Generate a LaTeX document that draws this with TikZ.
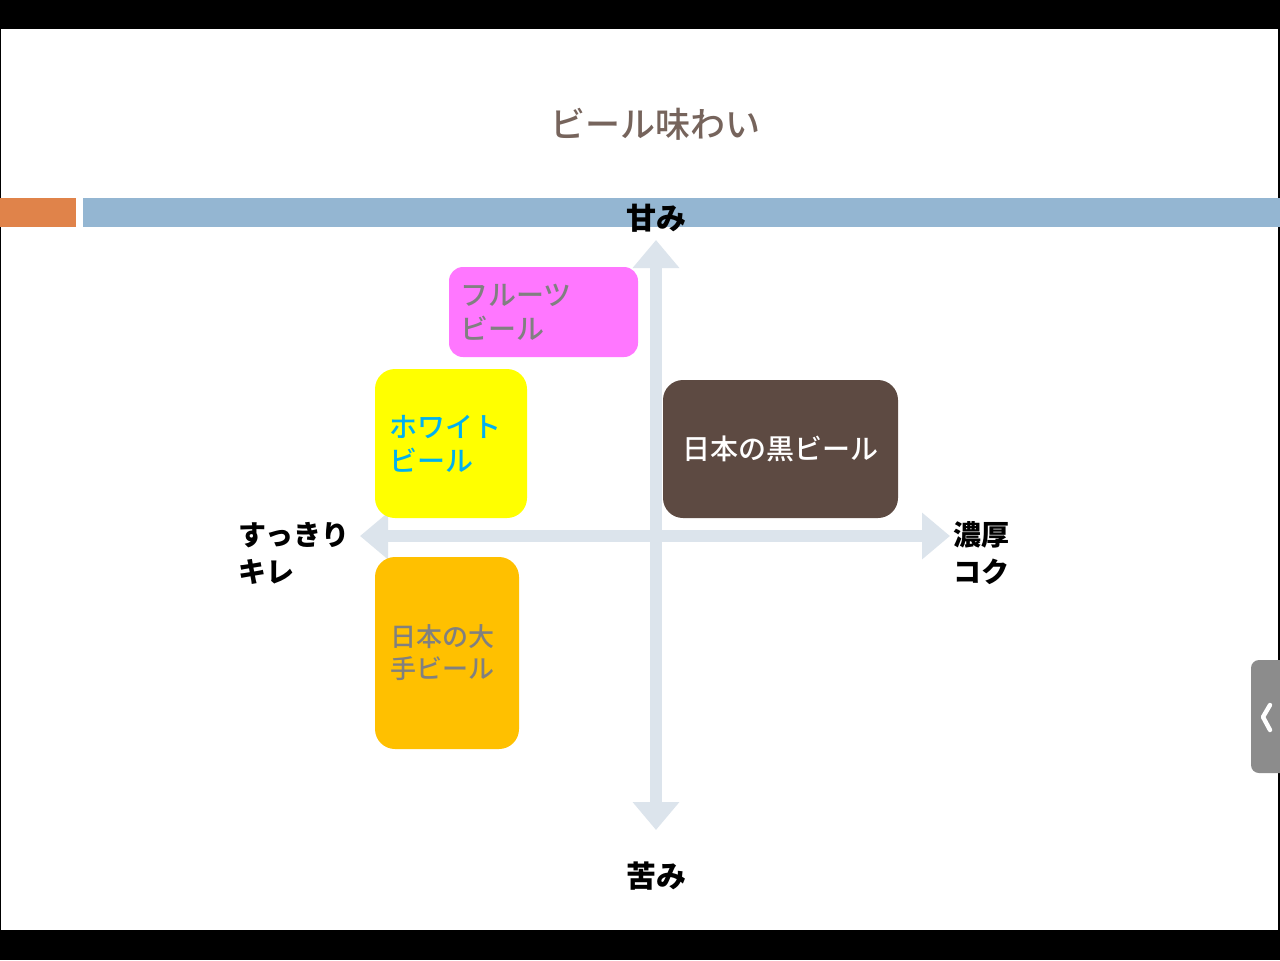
\documentclass[tikz,border=0pt]{standalone}
\usepackage{fontspec}
\setmainfont{Noto Sans CJK JP}
\newfontfamily\mediumjp{Noto Sans CJK JP Medium}
\usetikzlibrary{positioning,arrows.meta}
\definecolor{titlebrown}{RGB}{118,100,92}
\definecolor{accentorange}{RGB}{224,131,74}
\definecolor{barblue}{RGB}{148,182,210}
\definecolor{axisgray}{RGB}{220,228,236}
\definecolor{fruitpink}{RGB}{255,119,255}
\definecolor{whitecyan}{RGB}{0,176,240}
\definecolor{darkbrown}{RGB}{93,74,66}
\definecolor{majorgold}{RGB}{255,192,0}
\definecolor{pureyellow}{RGB}{255,255,0}
\definecolor{labelgray}{RGB}{128,128,128}
\definecolor{tabgray}{RGB}{140,140,140}
\tikzset{
    beerbox/.style = {
        shape=rectangle,
        rounded corners=10pt,
        inner ysep=0pt,
        font=\mediumjp\fontsize{14pt}{17pt}\selectfont
    },
    axislabel/.style = {
        font=\bfseries\fontsize{14pt}{18.5pt}\selectfont,
        align=left,
        inner sep=0pt
    },
    axis/.style = {
        draw=axisgray,
        line width=6pt,
        {Triangle[width=22.5pt,length=14pt]}-{Triangle[width=22.5pt,length=14pt]}
    },
}

\begin{document}
\begin{tikzpicture}[x=0.5pt,y=-0.5pt]
        \useasboundingbox (0,0) rectangle (1280,960);
        % slide frame
        \fill[black] (0,0) rectangle (1280,960);
        \fill[white] (1,29) rectangle (1278,930);
        \fill[accentorange] (0,198) rectangle (76,227);
        \fill[barblue] (83,198) rectangle (1280,227);

        \node[text=titlebrown, font=\mediumjp\fontsize{17.5pt}{20pt}\selectfont] (title) at (655,124) {ビール味わい};

        % axes
        \coordinate (top) at (656,240);
        \coordinate (bottom) at (656,830);
        \coordinate (left) at (360,536);
        \coordinate (right) at (950,536);
        \path[axis] (top) -- (bottom);
        \path[axis] (left) -- (right);

        \node[axislabel, font=\bfseries\fontsize{15pt}{18pt}\selectfont] (sweet) at (656,218) {甘み};
        \node[axislabel, font=\bfseries\fontsize{15pt}{18pt}\selectfont] (bitter) at (656,876) {苦み};
        \node[axislabel, anchor=west] (crisp) at (238,553) {すっきり\\キレ};
        \node[axislabel, anchor=west] (rich) at (953,553) {濃厚\\コク};

        % beers
        \node[beerbox, fill=fruitpink, text=labelgray, rounded corners=7pt,
              minimum height=45pt, inner xsep=5.5pt, text width=83.5pt, align=left] (fruit) at (543.5,312) {フルーツ\\ビール};
        \node[beerbox, fill=pureyellow, text=whitecyan,
              minimum height=74.5pt, inner xsep=7pt, text width=62pt, align=left] (white) at (451,443.5) {ホワイト\\ビール};
        \node[beerbox, fill=darkbrown, text=white,
              minimum height=69pt, minimum width=117.5pt, align=center] (dark) at (780.5,449) {日本の黒ビール};
        \node[beerbox, fill=majorgold, text=labelgray, font=\mediumjp\fontsize{13pt}{16pt}\selectfont,
              minimum height=96pt, inner xsep=7.5pt, text width=57pt, align=left] (major) at (447,653) {日本の大\\手ビール};

        % side tab
        \fill[tabgray, rounded corners=4pt] (1251,660) rectangle (1292,773);
        \draw[white, line width=2.2pt, line cap=round, line join=round] (1270,705) -- (1263,717) -- (1270,730);
\end{tikzpicture}
\end{document}
